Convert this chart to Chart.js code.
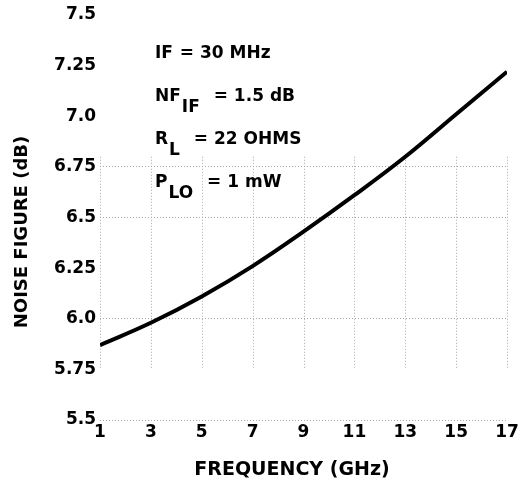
<!DOCTYPE html>
<html>
<head>
<meta charset="utf-8">
<script src="https://cdn.jsdelivr.net/npm/chart.js@4"></script>
<style>
  html, body { margin: 0; padding: 0; background: #fff; }
  #wrap { width: 525px; height: 483px; }
</style>
</head>
<body>
<div id="wrap"><canvas id="myChart" width="525" height="483"></canvas></div>
<script>
const frequency = [1, 3, 5, 7, 9, 11, 13, 15, 17];
const noiseFigure = [5.87, 5.98, 6.11, 6.26, 6.43, 6.61, 6.8, 7.01, 7.22];
const yTickLabels = ["5.5", "5.75", "6.0", "6.25", "6.5", "6.75", "7.0", "7.25", "7.5"];
const yGridValues = [5.5, 6.0, 6.5, 6.75];
const xTitle = "FREQUENCY (GHz)";
const yTitle = "NOISE FIGURE (dB)";
const notes = [
  ["IF", "", " = 30 MHz"],
  ["NF", "IF", " = 1.5 dB"],
  ["R", "L", " = 22 OHMS"],
  ["P", "LO", " = 1 mW"],
];

const FONT = "'DejaVu Sans', sans-serif";

// dotted vertical grid only over the lower part of the plot, like the original sheet
const partialGrid = {
  id: "partialGrid",
  beforeDatasetsDraw(chart) {
    const { ctx, scales } = chart;
    const x = scales.x, y = scales.y;
    ctx.save();
    ctx.strokeStyle = "#a8a8a8";
    ctx.lineWidth = 1;
    ctx.setLineDash([1, 2]);
    frequency.forEach((f) => {
      const px = Math.round(x.getPixelForValue(f)) + 0.5;
      ctx.beginPath();
      ctx.moveTo(px, y.getPixelForValue(6.8));
      ctx.lineTo(px, y.getPixelForValue(5.75));
      ctx.stroke();
    });
    ctx.restore();
  },
};

// parameter notes and axis titles (titles sit a little off-centre in the original)
const textPlugin = {
  id: "texts",
  afterDraw(chart) {
    const { ctx, chartArea } = chart;
    ctx.save();
    ctx.fillStyle = "#000";
    ctx.font = "bold 17px " + FONT;
    ctx.textBaseline = "alphabetic";
    const left = chartArea.left + 55;
    notes.forEach((n, i) => {
      const base = 58 + i * 43;
      let px = left;
      ctx.fillText(n[0], px, base);
      px += ctx.measureText(n[0]).width + 1;
      if (n[1]) {
        ctx.fillText(n[1], px, base + 11);
        px += ctx.measureText(n[1]).width + 8;
      }
      ctx.fillText(n[2], px, base);
    });

    ctx.textAlign = "center";
    ctx.textBaseline = "middle";
    ctx.font = "bold 19px " + FONT;
    ctx.fillText(xTitle, 292, 470);
    ctx.translate(22, 232);
    ctx.rotate(-Math.PI / 2);
    ctx.font = "bold 18px " + FONT;
    ctx.fillText(yTitle, 0, 0);
    ctx.restore();
  },
};

const ctx = document.getElementById("myChart").getContext("2d");
new Chart(ctx, {
  type: "line",
  data: {
    datasets: [
      {
        data: frequency.map((f, i) => ({ x: f, y: noiseFigure[i] })),
        borderColor: "#000",
        borderWidth: 4,
        pointRadius: 0,
        tension: 0.4,
        fill: false,
      },
    ],
  },
  options: {
    responsive: false,
    animation: false,
    layout: { padding: { left: 8, right: 18, top: 15, bottom: 0 } },
    plugins: { legend: { display: false }, tooltip: { enabled: false } },
    scales: {
      x: {
        type: "linear",
        min: 1,
        max: 17,
        afterFit: (scale) => { scale.height = 63; },
        ticks: {
          stepSize: 2,
          color: "#000",
          padding: -6,
          font: { family: FONT, size: 17, weight: "bold" },
        },
        grid: { display: false },
        border: { display: false },
      },
      y: {
        min: 5.5,
        max: 7.5,
        afterFit: (scale) => { scale.width = 92; },
        ticks: {
          stepSize: 0.25,
          color: "#000",
          padding: 4,
          font: { family: FONT, size: 17, weight: "bold" },
          callback: (v, i) => yTickLabels[i],
        },
        grid: {
          drawTicks: false,
          color: (c) => (yGridValues.includes(c.tick && c.tick.value) ? "#a8a8a8" : "transparent"),
          lineWidth: 1,
        },
        border: { display: false, dash: [1, 2] },
      },
    },
  },
  plugins: [partialGrid, textPlugin],
});
</script>
</body>
</html>
